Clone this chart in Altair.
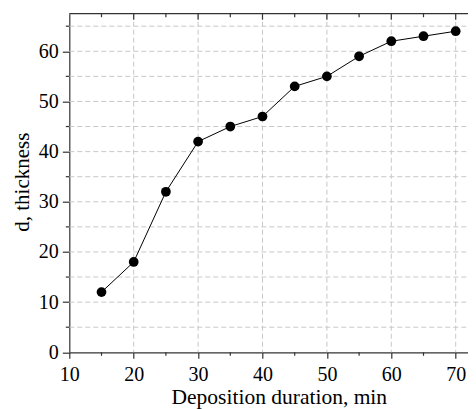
import altair as alt
import pandas as pd

# ---- data ----
duration = [15, 20, 25, 30, 35, 40, 45, 50, 55, 60, 65, 70]
thickness = [12, 18, 32, 42, 45, 47, 53, 55, 59, 62, 63, 64]

x_major = [10, 20, 30, 40, 50, 60, 70]
x_minor = [15, 25, 35, 45, 55, 65]
y_major = [0, 10, 20, 30, 40, 50, 60]
y_minor = [5, 15, 25, 35, 45, 55, 65]
x_grid = [20, 30, 40, 50, 60, 70]
y_grid = [5, 10, 15, 20, 25, 30, 35, 40, 45, 50, 55, 60, 65]

W, H = 398.7, 338.6
X_DOMAIN = [10, 10 + W / 6.44]
Y_DOMAIN = [0, 67.49]

FONT = "Liberation Serif"
AX = "#333333"
GRID = "#c8c8c8"

xs = alt.Scale(domain=X_DOMAIN, nice=False, zero=False)
ys = alt.Scale(domain=Y_DOMAIN, nice=False, zero=False)

df = pd.DataFrame({"x": duration, "y": thickness})

x_axis = alt.Axis(
    title="Deposition duration, min", values=x_major, grid=False,
    tickSize=6, tickColor=AX, domainColor=AX, domainWidth=1.2, tickWidth=1.2,
    labelPadding=6, labelFlush=False, labelOverlap=False,
    labelFont=FONT, titleFont=FONT, labelFontSize=20, titleFontSize=21.5,
    titleX=209.5, titleY=51.5, titleBaseline="alphabetic", titleAlign="center",
)
y_axis = alt.Axis(
    title="d, thickness", values=y_major, grid=False,
    tickSize=7, tickColor=AX, domainColor=AX, domainWidth=1.2, tickWidth=1.2,
    labelPadding=4, labelFlush=False, labelOverlap=False,
    labelFont=FONT, titleFont=FONT, labelFontSize=20, titleFontSize=21,
    titleAngle=270, titleX=-41.3, titleY=168, titleBaseline="alphabetic",
    titleAlign="center",
)

X = lambda f="x:Q": alt.X(f, scale=xs, axis=x_axis)
Y = lambda f="y:Q": alt.Y(f, scale=ys, axis=y_axis)

# gridlines
xg = alt.Chart(pd.DataFrame({"x": x_grid})).mark_rule(
    color=GRID, strokeDash=[5, 3], strokeWidth=1
).encode(x=X(), y=alt.value(0), y2=alt.value(H))

yg = alt.Chart(pd.DataFrame({"y": y_grid})).mark_rule(
    color=GRID, strokeDash=[5, 3], strokeWidth=1
).encode(y=Y(), x=alt.value(0), x2=alt.value(W))

# top frame line
top_frame = alt.Chart(
    pd.DataFrame({"x": [X_DOMAIN[0]], "x2": [X_DOMAIN[1]], "y": [Y_DOMAIN[1]]})
).mark_rule(color=AX, strokeWidth=1.2).encode(x=X(), x2="x2:Q", y=Y())

# top inward ticks
top_major = alt.Chart(pd.DataFrame({"x": x_major[1:]})).mark_rule(
    color=AX, strokeWidth=1.2
).encode(x=X(), y=alt.value(0), y2=alt.value(6))
top_minor = alt.Chart(pd.DataFrame({"x": x_minor})).mark_rule(
    color=AX, strokeWidth=1.2
).encode(x=X(), y=alt.value(0), y2=alt.value(3.5))

# minor outward ticks on bottom and left
bot_minor = alt.Chart(pd.DataFrame({"x": x_minor})).mark_rule(
    color=AX, strokeWidth=1.2
).encode(x=X(), y=alt.value(H), y2=alt.value(H + 3.5))
left_minor = alt.Chart(pd.DataFrame({"y": y_minor})).mark_rule(
    color=AX, strokeWidth=1.2
).encode(y=Y(), x=alt.value(0), x2=alt.value(-3.5))

base = alt.Chart(df).encode(x=X(), y=Y())
line = base.mark_line(color="black", strokeWidth=1)
pts = base.mark_circle(color="black", size=95, opacity=1)

chart = alt.layer(
    xg, yg, line, pts, top_frame, top_major, top_minor, bot_minor, left_minor
).properties(
    width=W, height=H,
    autosize=alt.AutoSizeParams(type="none"),
    padding={"left": 61.3, "top": 5.7, "right": 0, "bottom": 56.7},
).configure(font=FONT).configure_view(stroke=None).configure_axis(
    labelColor="black", titleColor="black", titleFontWeight="normal",
)

chart.save("out.html", embed_options={"renderer": "svg", "actions": False})
